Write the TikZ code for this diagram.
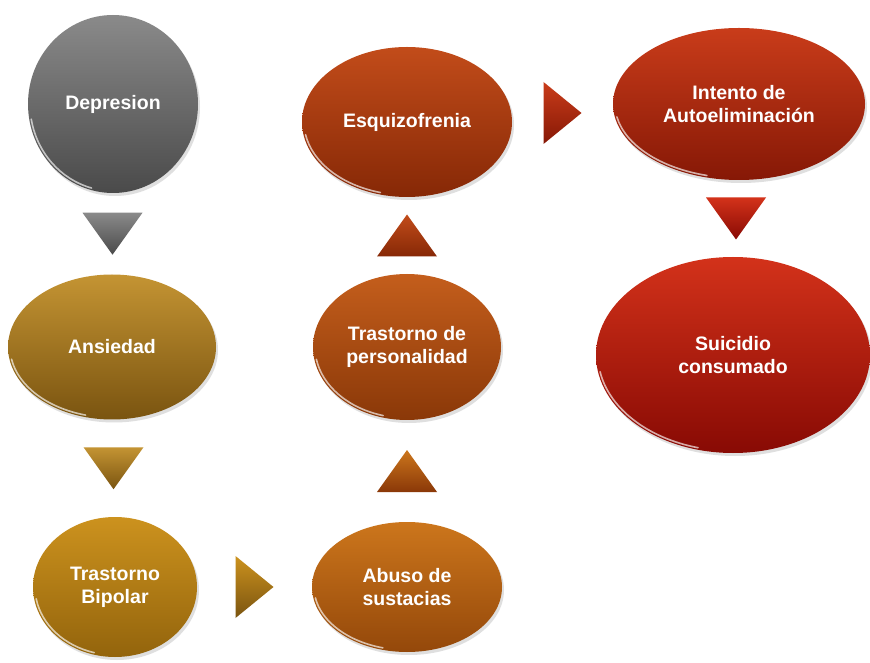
\documentclass[tikz,border=0pt]{standalone}
\usepackage{fontspec}
\setmainfont{Liberation Sans}
\usetikzlibrary{shapes.geometric,shadows,calc}

\definecolor{gris1}{HTML}{8A8A8A}
\definecolor{gris2}{HTML}{4A4A4A}
\definecolor{oro1}{HTML}{C49433}
\definecolor{oro2}{HTML}{7A5410}
\definecolor{bip1}{HTML}{CC921E}
\definecolor{bip2}{HTML}{93640C}
\definecolor{abu1}{HTML}{CC761C}
\definecolor{abu2}{HTML}{94480A}
\definecolor{per1}{HTML}{C45E1C}
\definecolor{per2}{HTML}{8A3808}
\definecolor{esq1}{HTML}{C24C1A}
\definecolor{esq2}{HTML}{862806}
\definecolor{int1}{HTML}{C93C1A}
\definecolor{int2}{HTML}{861806}
\definecolor{sui1}{HTML}{D3321A}
\definecolor{sui2}{HTML}{880A04}

\tikzset{
  burbuja/.style 2 args={ellipse, inner sep=0pt, outer sep=0pt, draw=none,
    top color=#1, bottom color=#2,
    drop shadow={opacity=0.25, shadow xshift=2pt, shadow yshift=-3pt},
    text=white, font=\fontsize{19.5}{23}\selectfont\bfseries, align=center},
  pics/abajo/.style={code={\shade[#1] (-30,21) -- (30,21) -- (0,-21) -- cycle;}},
  pics/arriba/.style={code={\shade[#1] (-30,-21) -- (30,-21) -- (0,21) -- cycle;}},
  pics/derecha/.style={code={\shade[#1] (-19,31) -- (19,0) -- (-19,-31) -- cycle;}},
}

\begin{document}
\begin{tikzpicture}[x=1pt,y=1pt]
\fill[white] (0,0) rectangle (870,662);
\useasboundingbox (0,0) rectangle (870,662);

\node[burbuja={gris1}{gris2}, minimum width=170, minimum height=178] (dep) at (113,558) {Depresion};
\node[burbuja={oro1}{oro2}, minimum width=208, minimum height=145] (ans) at (112,315) {Ansiedad};
\node[burbuja={bip1}{bip2}, minimum width=164, minimum height=140] (bip) at (115,75) {Trastorno\\Bipolar};
\node[burbuja={abu1}{abu2}, minimum width=190, minimum height=130] (abu) at (407,75) {Abuso de\\sustacias};
\node[burbuja={per1}{per2}, minimum width=188, minimum height=146] (per) at (407,315) {Trastorno de\\personalidad};
\node[burbuja={esq1}{esq2}, minimum width=210, minimum height=150] (esq) at (407,540) {Esquizofrenia};
\node[burbuja={int1}{int2}, minimum width=252, minimum height=152] (int) at (739,558) {Intento de\\Autoeliminación};
\node[burbuja={sui1}{sui2}, minimum width=274, minimum height=196] (sui) at (733,307) {Suicidio\\consumado};

\foreach \nodo in {dep,ans,bip,abu,per,esq,int,sui}
  \draw[white, opacity=0.65, line width=1.6pt, line cap=round]
    let \p1=($(\nodo.east)-(\nodo.center)$), \p2=($(\nodo.north)-(\nodo.center)$),
        \n1={\x1-2pt}, \n2={\y2-2pt} in
    ($(\nodo.center)+(190:\n1 and \n2)$) arc[start angle=190, end angle=255, x radius=\n1, y radius=\n2];

\path (dep.south) -- (ans.north) coordinate[midway] (t1);
\path (ans.south) -- (bip.north) coordinate[midway] (t2);
\path (bip.east) -- (abu.west) coordinate[midway] (t3);
\path (abu.north) -- (per.south) coordinate[midway] (t4);
\path (per.north) -- (esq.south) coordinate[midway] (t5);
\path (esq.east) -- (int.west) coordinate[midway] (t6);
\path (int.south) -- (sui.north) coordinate[midway] (t7);

\pic at (t1) {abajo={top color=gris1, bottom color=gris2}};
\pic at (t2) {abajo={top color=oro1, bottom color=oro2}};
\pic at (t3) {derecha={top color=bip1, bottom color=oro2}};
\pic at (t4) {arriba={top color=abu1, bottom color=per2}};
\pic at (t5) {arriba={top color=esq1, bottom color=esq2}};
\pic at (t6) {derecha={top color=int1, bottom color=int2}};
\pic at (t7) {abajo={top color=sui1, bottom color=sui2}};
\end{tikzpicture}
\end{document}
